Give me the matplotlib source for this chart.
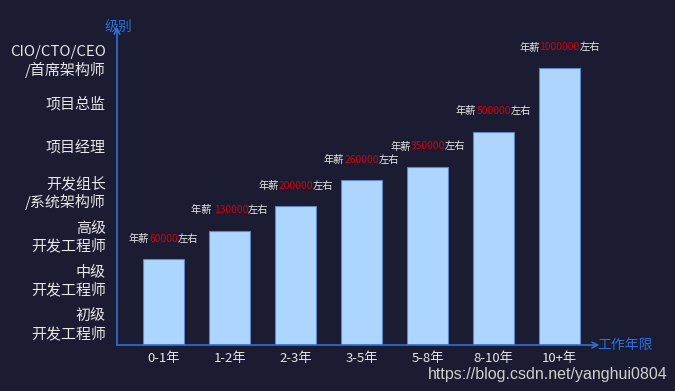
import matplotlib
matplotlib.use('Agg')
import matplotlib.pyplot as plt
from matplotlib.offsetbox import TextArea, HPacker, AnnotationBbox

plt.rcParams['font.family'] = ['Noto Sans CJK SC', 'DejaVu Sans']

# data
years = ['0-1年', '1-2年', '2-3年', '3-5年', '5-8年', '8-10年', '10+年']
levels = ['初级\n开发工程师', '中级\n开发工程师', '高级\n开发工程师',
          '开发组长\n/系统架构师', '项目经理', '项目总监', 'CIO/CTO/CEO\n/首席架构师']
bar_height = [1.95, 2.6, 3.15, 3.75, 4.05, 4.85, 6.3]   # in "level" units
salary = ['60000', '130000', '200000', '260000', '350000', '500000', '1000000']
salary_prefix = ['年薪', '年薪 ', '年薪', '年薪', '年薪', '年薪', '年薪']

bg = '#1b1b31'
axis_blue = '#2f6fd8'
bar_col = '#acd5ff'
txt_col = '#e6e6e6'
red = '#d4000f'

W, H = 675, 391
fig = plt.figure(figsize=(W / 100, H / 100), dpi=100, facecolor=bg)
ax = fig.add_axes([117 / W, (H - 345) / H, (590 - 117) / W, (345 - 33) / H])
ax.set_facecolor(bg)

x = list(range(len(years)))
ax.bar(x, bar_height, width=0.62, color=bar_col, edgecolor='#5f86c4', linewidth=0.8, zorder=2)

ax.set_xlim(-0.71, 6.46)
ax.set_ylim(0, 7.09)

ax.set_xticks(x)
ax.set_xticklabels(years, color=txt_col, fontsize=9.5)
ax.set_yticks([i + 0.5 for i in range(len(levels))])
ax.set_yticklabels(levels, color=txt_col, fontsize=10.8, linespacing=1.2)
ax.tick_params(axis='both', length=0)
ax.tick_params(axis='x', pad=5)
ax.tick_params(axis='y', pad=8)

for s in ax.spines.values():
    s.set_visible(False)

# axis lines with arrows
ax.annotate('', xy=(0, 1.02), xytext=(0, 0), xycoords='axes fraction',
            arrowprops=dict(arrowstyle='->', color=axis_blue, lw=1.2,
                            shrinkA=0, shrinkB=0, mutation_scale=10),
            annotation_clip=False)
ax.annotate('', xy=(1.02, 0), xytext=(0, 0), xycoords='axes fraction',
            arrowprops=dict(arrowstyle='->', color=axis_blue, lw=1.2,
                            shrinkA=0, shrinkB=0, mutation_scale=10),
            annotation_clip=False)
fig.text(118 / W, 1 - 27 / H, '级别', color=axis_blue, fontsize=10, ha='center', va='center')
fig.text(597 / W, 1 - 345 / H, '工作年限', color=axis_blue, fontsize=10, ha='left', va='center')

# salary labels (white + red + white)
for xi, h, pre, val in zip(x, bar_height, salary_prefix, salary):
    parts = [TextArea(pre, textprops=dict(color=txt_col, fontsize=7.4)),
             TextArea(val, textprops=dict(color=red, fontsize=7.4)),
             TextArea('左右', textprops=dict(color=txt_col, fontsize=7.4))]
    box = HPacker(children=parts, pad=0, sep=0, align='baseline')
    ab = AnnotationBbox(box, (xi, h), xybox=(0, 11), xycoords='data',
                        boxcoords='offset points', box_alignment=(0.5, 0),
                        frameon=False, annotation_clip=False)
    ax.add_artist(ab)

fig.text(668 / W, 1 - 375 / H, 'https://blog.csdn.net/yanghui0804', color='#cfcfcf',
         fontsize=11.5, ha='right', va='center', family='Liberation Sans')

fig.savefig('out.png', dpi=100, facecolor=bg)
